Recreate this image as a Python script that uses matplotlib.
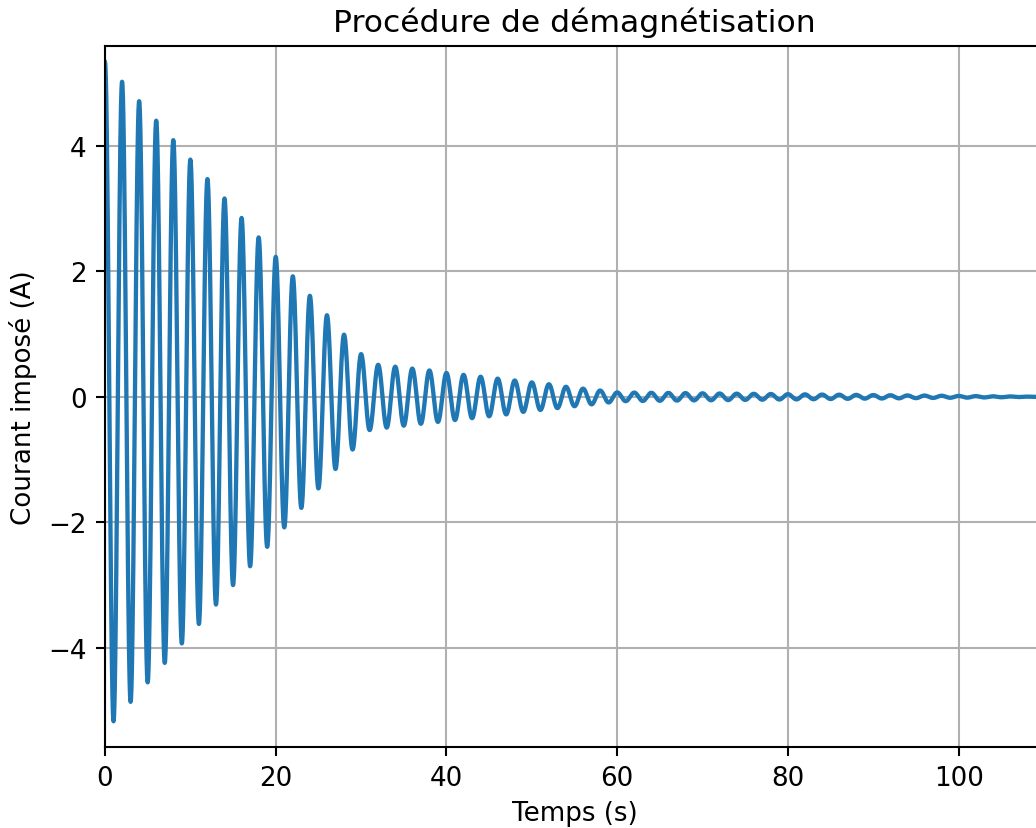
import numpy as np
from matplotlib import pyplot as plt

# Amplitude of each half-cycle extremum (one every second)
stage1_amps = [5.33, 5.17, 5.02, 4.86, 4.71, 4.55, 4.40, 4.24, 4.09, 3.93,
               3.78, 3.62, 3.47, 3.31, 3.16, 3.00, 2.85, 2.70, 2.54, 2.39,
               2.23, 2.08, 1.92, 1.77, 1.61, 1.46, 1.30, 1.15, 0.99, 0.84,
               0.68]
stage2_amps = [0.53, 0.51, 0.49, 0.48, 0.46, 0.45, 0.43, 0.42, 0.40, 0.38,
               0.37, 0.35, 0.34, 0.32, 0.31, 0.29, 0.28, 0.26, 0.24, 0.23,
               0.21, 0.20, 0.18, 0.16, 0.15, 0.13, 0.12, 0.10, 0.09]
stage3_amps = [0.070, 0.069, 0.067, 0.066, 0.064, 0.063, 0.062, 0.060, 0.059, 0.057,
               0.056, 0.055, 0.053, 0.052, 0.050, 0.049, 0.048, 0.046, 0.045, 0.043,
               0.042, 0.041, 0.039, 0.038, 0.036, 0.035, 0.034, 0.032, 0.031, 0.029,
               0.028, 0.027, 0.025, 0.024, 0.022, 0.021, 0.020, 0.018, 0.017, 0.015,
               0.014, 0.013, 0.011, 0.010, 0.008, 0.007, 0.006, 0.004, 0.003, 0.001,
               0.000]

amps = np.array(stage1_amps + stage2_amps + stage3_amps)
t_ext = np.arange(len(amps))  # one extremum per second, t = 0 .. 110
signs = np.where(t_ext % 2 == 0, 1.0, -1.0)
extrema = amps * signs

# join consecutive extrema with half-cosine arcs
t_parts, y_parts = [], []
s = np.linspace(0, 1, 40, endpoint=False)
for k in range(len(extrema) - 1):
    a, b = extrema[k], extrema[k + 1]
    t_parts.append(t_ext[k] + s)
    y_parts.append((a + b) / 2 + (a - b) / 2 * np.cos(np.pi * s))
t_parts.append([t_ext[-1]])
y_parts.append([extrema[-1]])
t = np.concatenate(t_parts)
y = np.concatenate(y_parts)

W, H = 1036, 829
fig = plt.figure(figsize=(W / 100, H / 100), dpi=100)
ax = fig.add_axes([105 / W, 1 - 748 / H, 939 / W, 701 / H])

ax.plot(t, y, color='#1f77b4', lw=3.1)
ax.set_xlim(0, 110)
ax.set_ylim(-5.58, 5.59)
ax.set_xticks([0, 20, 40, 60, 80, 100])
ax.set_yticks([-4, -2, 0, 2, 4])
ax.grid(True, color='#b0b0b0', lw=1.5)
ax.set_axisbelow(True)

for sp in ax.spines.values():
    sp.set_linewidth(1.5)
ax.tick_params(labelsize=18.8, length=6.6, width=1.5, pad=6.6)

ax.set_xlabel('Temps (s)', fontsize=18.8, labelpad=6)
ax.set_ylabel('Courant imposé (A)', fontsize=18.8, labelpad=8)
ax.set_title('Procédure de démagnétisation', fontsize=22.6, pad=11)

fig.savefig('out.png', dpi=100)
